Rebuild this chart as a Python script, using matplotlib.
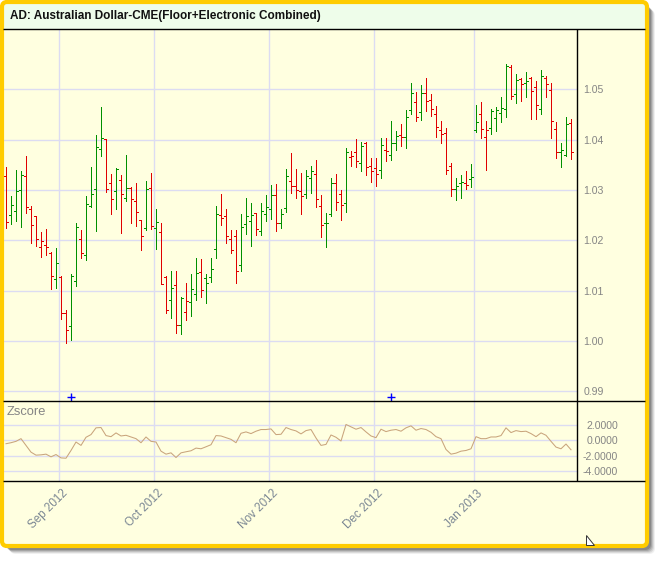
import numpy as np
import matplotlib
matplotlib.use('Agg')
import matplotlib.pyplot as plt
from matplotlib.collections import LineCollection
from matplotlib.patches import FancyBboxPatch, Rectangle, Polygon
from matplotlib.transforms import ScaledTranslation

plt.rcParams['font.family'] = ['Liberation Sans', 'DejaVu Sans']

title = "AD: Australian Dollar-CME(Floor+Electronic Combined)"

opens = [1.0328, 1.0250, 1.0258, 1.0300, 1.0328, 1.0262, 1.0248, 1.0186, 1.0190, 1.0175,
         1.0122, 1.0126, 1.0056, 1.0030, 1.0118, 1.0202, 1.0170, 1.0268, 1.0302, 1.0382,
         1.0401, 1.0314, 1.0298, 1.0320, 1.0284, 1.0304, 1.0278, 1.0240, 1.0225, 1.0304,
         1.0224, 1.0217, 1.0127, 1.0082, 1.0112, 1.0032, 1.0058, 1.0078, 1.0094, 1.0136,
         1.0124, 1.0126, 1.0182, 1.0250, 1.0248, 1.0202, 1.0208, 1.0150, 1.0232, 1.0238,
         1.0254, 1.0218, 1.0252, 1.0263, 1.0290, 1.0235, 1.0264, 1.0318, 1.0308, 1.0298,
         1.0292, 1.0324, 1.0332, 1.0268, 1.0235, 1.0253, 1.0313, 1.0292, 1.0274, 1.0366,
         1.0376, 1.0354, 1.0393, 1.0348, 1.0344, 1.0340, 1.0380, 1.0370, 1.0394, 1.0409,
         1.0406, 1.0459, 1.0475, 1.0454, 1.0493, 1.0478, 1.0451, 1.0418, 1.0413, 1.0347,
         1.0301, 1.0313, 1.0314, 1.0321, 1.0418, 1.0450, 1.0405, 1.0422, 1.0443, 1.0453,
         1.0460, 1.0545, 1.0490, 1.0520, 1.0513, 1.0522, 1.0504, 1.0461, 1.0523, 1.0498,
         1.0420, 1.0376, 1.0370, 1.0432]
highs = [1.0345, 1.0287, 1.0339, 1.0337, 1.0367, 1.0267, 1.0249, 1.0217, 1.0223, 1.0177,
         1.0185, 1.0129, 1.0061, 1.0132, 1.0235, 1.0220, 1.0287, 1.0345, 1.0409, 1.0465,
         1.0401, 1.0331, 1.0343, 1.0329, 1.0369, 1.0305, 1.0314, 1.0241, 1.0317, 1.0333,
         1.0263, 1.0235, 1.0129, 1.0139, 1.0139, 1.0087, 1.0115, 1.0133, 1.0165, 1.0163,
         1.0133, 1.0165, 1.0267, 1.0291, 1.0263, 1.0221, 1.0221, 1.0253, 1.0283, 1.0273,
         1.0255, 1.0273, 1.0289, 1.0309, 1.0311, 1.0263, 1.0341, 1.0373, 1.0341, 1.0333,
         1.0339, 1.0347, 1.0359, 1.0289, 1.0255, 1.0323, 1.0331, 1.0299, 1.0383, 1.0377,
         1.0401, 1.0395, 1.0395, 1.0363, 1.0363, 1.0403, 1.0403, 1.0437, 1.0417, 1.0430,
         1.0459, 1.0512, 1.0495, 1.0508, 1.0522, 1.0490, 1.0466, 1.0436, 1.0422, 1.0353,
         1.0323, 1.0329, 1.0337, 1.0352, 1.0468, 1.0474, 1.0436, 1.0460, 1.0464, 1.0484,
         1.0551, 1.0549, 1.0530, 1.0523, 1.0534, 1.0524, 1.0517, 1.0538, 1.0526, 1.0512,
         1.0434, 1.0394, 1.0444, 1.0440]
lows = [1.0225, 1.0233, 1.0239, 1.0227, 1.0255, 1.0195, 1.0189, 1.0167, 1.0171, 1.0103,
        1.0105, 1.0043, 0.9995, 1.0001, 1.0109, 1.0165, 1.0160, 1.0265, 1.0219, 1.0368,
        1.0295, 1.0253, 1.0263, 1.0215, 1.0277, 1.0235, 1.0229, 1.0181, 1.0221, 1.0223,
        1.0183, 1.0113, 1.0055, 1.0045, 1.0015, 1.0013, 1.0041, 1.0049, 1.0081, 1.0087,
        1.0075, 1.0117, 1.0165, 1.0231, 1.0195, 1.0175, 1.0115, 1.0139, 1.0213, 1.0189,
        1.0211, 1.0210, 1.0239, 1.0243, 1.0219, 1.0225, 1.0257, 1.0293, 1.0283, 1.0253,
        1.0283, 1.0293, 1.0265, 1.0207, 1.0187, 1.0249, 1.0261, 1.0241, 1.0256, 1.0348,
        1.0345, 1.0337, 1.0329, 1.0315, 1.0307, 1.0323, 1.0357, 1.0360, 1.0379, 1.0388,
        1.0383, 1.0450, 1.0436, 1.0438, 1.0457, 1.0446, 1.0406, 1.0394, 1.0331, 1.0288,
        1.0280, 1.0284, 1.0302, 1.0306, 1.0414, 1.0404, 1.0340, 1.0412, 1.0416, 1.0434,
        1.0444, 1.0481, 1.0472, 1.0477, 1.0485, 1.0440, 1.0440, 1.0450, 1.0485, 1.0404,
        1.0364, 1.0346, 1.0368, 1.0362]
closes = [1.0236, 1.0270, 1.0298, 1.0330, 1.0266, 1.0230, 1.0202, 1.0198, 1.0187, 1.0128,
          1.0154, 1.0056, 1.0022, 1.0128, 1.0226, 1.0175, 1.0272, 1.0292, 1.0386, 1.0404,
          1.0302, 1.0282, 1.0341, 1.0292, 1.0304, 1.0282, 1.0256, 1.0208, 1.0302, 1.0228,
          1.0236, 1.0113, 1.0062, 1.0106, 1.0031, 1.0085, 1.0080, 1.0104, 1.0134, 1.0102,
          1.0116, 1.0142, 1.0252, 1.0244, 1.0208, 1.0180, 1.0139, 1.0226, 1.0248, 1.0250,
          1.0222, 1.0258, 1.0266, 1.0290, 1.0234, 1.0253, 1.0328, 1.0308, 1.0299, 1.0288,
          1.0328, 1.0338, 1.0282, 1.0230, 1.0234, 1.0314, 1.0276, 1.0270, 1.0375, 1.0368,
          1.0358, 1.0388, 1.0346, 1.0337, 1.0332, 1.0390, 1.0378, 1.0393, 1.0408, 1.0406,
          1.0444, 1.0492, 1.0445, 1.0492, 1.0476, 1.0461, 1.0425, 1.0412, 1.0339, 1.0301,
          1.0307, 1.0315, 1.0309, 1.0325, 1.0434, 1.0421, 1.0418, 1.0456, 1.0458, 1.0462,
          1.0547, 1.0487, 1.0518, 1.0510, 1.0517, 1.0497, 1.0468, 1.0527, 1.0510, 1.0436,
          1.0375, 1.0379, 1.0430, 1.0375]
zscore = [-0.44, -0.31, -0.13, 0.22, -0.66, -1.54, -1.93, -1.89, -1.80, -2.15,
          -1.85, -2.29, -2.33, -1.32, -0.22, -0.66, 0.40, 0.75, 1.63, 1.67,
          0.62, 0.48, 0.97, 0.57, 0.66, 0.44, 0.22, -0.31, 0.44, -0.13,
          -0.22, -1.41, -1.80, -1.63, -2.24, -1.63, -1.49, -1.36, -1.01, -1.10,
          -0.84, -0.57, 0.62, 0.57, 0.35, 0.13, -0.31, 0.92, 1.10, 0.88,
          1.19, 1.41, 1.41, 1.49, 0.75, 0.79, 1.67, 1.41, 1.23, 0.84,
          1.27, 1.41, 0.31, -0.66, -0.53, 0.70, 0.40, -0.09, 2.07, 1.76,
          1.45, 1.67, 1.10, 0.57, 0.35, 1.45, 1.14, 1.32, 1.41, 1.19,
          1.63, 1.89, 1.32, 1.54, 1.41, 1.05, 0.48, 0.22, -1.19, -1.80,
          -1.67, -1.41, -1.32, -1.10, 0.48, 0.22, 0.22, 0.44, 0.44, 0.62,
          1.63, 1.01, 1.27, 1.14, 1.19, 0.88, 0.48, 0.97, 0.66, -0.13,
          -0.88, -1.10, -0.48, -1.23]

month_labels = ['Sep 2012', 'Oct 2012', 'Nov 2012', 'Dec 2012', 'Jan 2013']
month_start_idx = [11, 30, 53, 74, 94]
price_ticks = [0.99, 1.00, 1.01, 1.02, 1.03, 1.04, 1.05]
price_tick_labels = ['0.99', '1.00', '1.01', '1.02', '1.03', '1.04', '1.05']
z_ticks = [2, 0, -2, -4]
z_tick_labels = ['2.0000', '0.0000', '-2.0000', '-4.0000']
marker_idx = [13, 77]
marker_price = 0.9888

# ---------------------------------------------------------------
W, H = 661, 562
fig = plt.figure(figsize=(W / 100, H / 100), dpi=100)
fig.patch.set_facecolor('white')

def fx(px):
    return px / W

def fy(py):
    return 1 - py / H

BG = '#FFFFE0'
GOLD = '#FFCC00'
GRID = '#DCDCF2'
LBL = '#858585'

# background layer: shadow, frame fill, title bar
bg = fig.add_axes([0, 0, 1, 1], zorder=0)
bg.set_xlim(0, W); bg.set_ylim(H, 0); bg.axis('off')
for off, a in [(8, 0.08), (7, 0.12), (6, 0.16), (5, 0.22), (4, 0.28)]:
    bg.add_patch(FancyBboxPatch((2 + off, 2 + off), 645, 544,
                                boxstyle='round,pad=0,rounding_size=6',
                                fc='#404040', ec='none', alpha=a))
bg.add_patch(FancyBboxPatch((2, 2), 645, 544, boxstyle='round,pad=0,rounding_size=5',
                            fc=BG, ec='none'))
bg.add_patch(Rectangle((3.5, 3.5), 641.5, 25.8, fc='#EEFDEA', ec='none'))

# main price panel
x0, x1 = 3.0, 577.3
ax = fig.add_axes([fx(x0), fy(401.3), fx(x1) - fx(x0), (401.3 - 29.3) / H], zorder=2)
ax.set_facecolor('none')
for s in ax.spines.values():
    s.set_visible(False)
n = len(closes)
idx = np.arange(n)
ax.set_xlim((x0 - 6) / 5, (x1 - 6) / 5)
ax.set_ylim(0.9880, 1.0619)
grid_pos = np.array(month_start_idx) - 0.5
ax.set_xticks(grid_pos)
ax.set_xticklabels([])
ax.yaxis.tick_right()
ax.set_yticks(price_ticks)
ax.set_yticklabels(price_tick_labels)
ax.tick_params(axis='both', length=0)
ax.tick_params(axis='y', pad=4.2, labelsize=7.6, labelcolor=LBL)
ax.grid(True, color=GRID, lw=1.0)
ax.set_axisbelow(True)

colors = ['#E00000']
for i in range(1, n):
    colors.append('#009000' if closes[i] > closes[i - 1] else '#E00000')
segs, cols = [], []
tl = 0.42
for i in range(n):
    segs.append([(i, lows[i]), (i, highs[i])])
    segs.append([(i - tl, opens[i]), (i, opens[i])])
    segs.append([(i, closes[i]), (i + tl, closes[i])])
    cols += [colors[i]] * 3
ax.add_collection(LineCollection(segs, colors=cols, linewidths=0.72,
                                 antialiased=False, zorder=3))
ax.plot(marker_idx, [marker_price] * len(marker_idx), '+', color='#0000FF',
        ms=5.5, mew=1.0, zorder=4)

# zscore panel
az = fig.add_axes([fx(x0), fy(481.3), fx(x1) - fx(x0), 80 / H], zorder=2)
az.set_facecolor('none')
for s in az.spines.values():
    s.set_visible(False)
az.set_xlim(ax.get_xlim())
az.set_ylim(-5.34, 5.09)
az.plot(idx, zscore, color='#C9A47C', lw=0.75, zorder=3)
az.yaxis.tick_right()
az.set_yticks(z_ticks)
az.set_yticklabels(z_tick_labels, ha='right')
az.tick_params(axis='both', length=0)
az.tick_params(axis='y', pad=29.5, labelsize=7.6, labelcolor=LBL)
az.set_xticks(grid_pos)
az.set_xticklabels(month_labels, rotation=45, ha='right', va='center',
                   rotation_mode='anchor', fontsize=8.4, color='#7B8794')
az.tick_params(axis='x', pad=7.5)
shift = ScaledTranslation(7.5 / 100, 0, fig.dpi_scale_trans)
for lab in az.get_xticklabels():
    lab.set_transform(lab.get_transform() + shift)
az.grid(True, color=GRID, lw=1.0)
az.set_axisbelow(True)
az.text(0.007, 0.87, 'Zscore', transform=az.transAxes, fontsize=9.3,
        color=LBL, ha='left', va='center')

# foreground: separator lines, frame border, title
fg = fig.add_axes([0, 0, 1, 1], zorder=5)
fg.set_facecolor('none')
fg.set_xlim(0, W); fg.set_ylim(H, 0); fg.axis('off')
for yy in (29.3, 401.3, 481.3):
    fg.plot([3, 645], [yy, yy], color='black', lw=1.0, solid_capstyle='butt')
fg.plot([577.3, 577.3], [29.3, 481.3], color='black', lw=1.0, solid_capstyle='butt')
fg.add_patch(FancyBboxPatch((2, 2), 645, 544, boxstyle='round,pad=0,rounding_size=5',
                            fc='none', ec=GOLD, lw=3.0))
fg.add_patch(Polygon([(585.5, 535), (585.5, 545), (594, 545)], closed=True,
                     fc='white', ec='#333333', lw=0.7))
fig.text(fx(10), fy(16.3), title, fontsize=8.45, fontweight='bold', color='#111111',
         ha='left', va='center')

fig.savefig('out.png', dpi=100)
